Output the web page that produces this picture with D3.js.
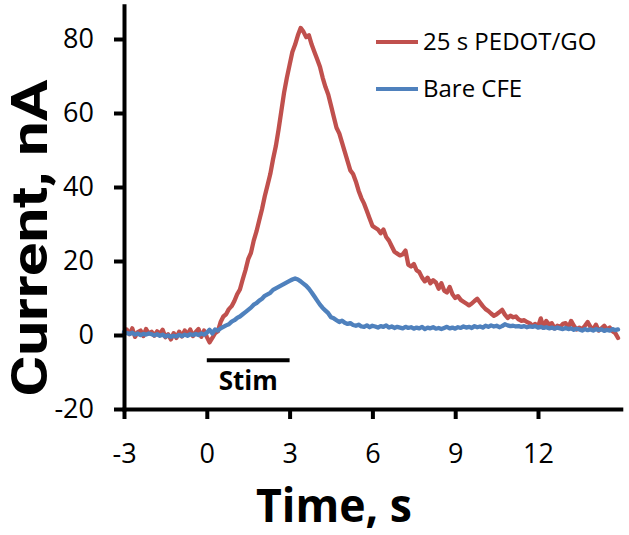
<!DOCTYPE html>
<html><head><meta charset="utf-8">
<script src="https://cdn.jsdelivr.net/npm/d3@7"></script>
<style>html,body{margin:0;padding:0;background:#fff;}svg{display:block;}</style>
</head><body>
<svg id="chart" width="629" height="535"></svg>
<script>
// ---- data ----
const tStart = -3.0, tStep = 0.1; // sampling of the traces (s)
const seriesNames = ["25 s PEDOT/GO", "Bare CFE"];
const seriesColors = ["#C0504D", "#4F81BD"];
const pedotGO = [
 0.5,1.5,0.2,1.8,-0.5,0.8,1.2,-0.3,1.6,0.4,
 0.9,-0.2,1.0,0.3,1.4,-0.6,0.2,-1.2,0.5,-0.8,
 0.9,-0.4,1.2,0.1,1.5,-0.3,0.8,1.6,-0.5,1.2,
 -0.5,-2.0,-0.8,0.5,1.0,3.5,5.0,5.6,7.0,7.8,
 9.2,11.0,12.3,15.0,17.5,20.5,22.2,25.5,28.0,31.0,
 34.0,37.5,40.5,43.5,47.5,51.0,55.5,60.5,65.5,69.5,
 73.0,76.5,78.5,81.0,83.0,82.0,80.5,81.0,78.5,76.5,
 74.5,72.5,69.5,67.0,65.0,62.0,59.0,56.0,54.5,52.0,
 49.5,47.0,44.5,43.5,41.5,39.0,37.0,35.5,33.5,31.5,
 29.5,29.0,28.5,27.5,28.5,26.5,25.5,24.0,22.5,22.0,
 21.5,21.8,22.8,19.0,18.5,19.2,17.5,17.0,15.5,14.5,
 15.5,14.0,14.8,14.2,12.5,14.0,12.0,11.5,13.0,11.0,
 10.0,10.5,9.5,9.0,8.5,8.0,8.5,9.2,9.8,8.8,
 7.8,7.0,6.5,5.8,5.2,5.6,6.2,6.8,5.5,4.6,
 5.2,4.8,5.0,4.2,3.8,4.0,3.5,3.2,2.5,3.0,
 2.2,4.5,2.0,3.8,2.8,3.2,1.8,2.5,2.2,3.0,
 3.2,2.0,3.8,2.5,1.5,2.0,1.6,2.5,3.5,2.2,
 1.5,2.8,1.2,1.8,2.5,1.5,2.0,1.0,0.5,-0.8
];
const bareCFE = [
 0.8,0.5,0.3,0.6,0.1,0.4,0.0,0.3,0.1,0.4,
 0.2,-0.1,0.2,-0.2,0.1,-0.4,-0.1,-0.5,-0.2,-0.4,
 0.0,-0.3,0.1,-0.2,0.2,0.0,0.3,0.0,0.4,0.1,
 0.6,1.4,0.4,1.5,1.2,1.8,2.2,2.6,2.9,3.6,
 4.0,4.6,5.0,5.6,6.2,6.8,7.4,8.2,8.6,9.3,
 9.8,10.6,11.0,11.4,12.2,12.6,13.0,13.4,13.8,14.2,
 14.6,15.0,15.3,15.0,14.5,13.9,13.3,12.5,11.5,10.4,
 9.3,8.2,7.3,6.6,5.9,4.8,4.5,4.0,3.5,3.9,
 3.3,3.0,3.2,2.7,2.5,2.8,2.3,2.2,2.6,2.1,
 2.5,2.3,2.0,2.4,2.2,2.6,2.0,2.3,1.9,2.2,
 2.0,1.8,2.2,1.9,2.1,1.7,2.0,1.8,2.2,1.6,
 2.0,1.8,2.1,1.7,1.9,1.6,1.9,2.2,1.8,2.0,
 1.7,2.1,1.9,2.3,2.0,2.2,1.9,2.4,2.1,2.3,
 2.0,2.5,2.2,2.6,2.3,2.5,2.1,2.4,2.9,2.6,
 2.4,2.5,2.3,2.4,2.2,2.4,2.1,2.3,2.2,2.4,
 2.0,2.2,1.9,2.1,1.8,2.0,1.7,2.0,1.8,1.6,
 1.9,1.6,1.8,1.4,1.7,1.5,1.2,1.6,1.3,1.5,
 1.2,1.6,1.3,1.5,1.1,1.4,1.2,1.6,1.3,1.5
];
const xTicks = [-3, 0, 3, 6, 9, 12];
const yTicks = [-20, 0, 20, 40, 60, 80];
const xDomain = [-3, 15];
const yDomain = [-20, 89];
const stimStart = 0, stimEnd = 3, stimLevel = -6.8;
const xTitle = "Time, s", yTitle = "Current, nA", stimLabel = "Stim";

// ---- drawing ----
const svg = d3.select("#chart");
const x = d3.scaleLinear().domain(xDomain).range([124, 620.8]);
const y = d3.scaleLinear().domain(yDomain).range([409, 5.7]);
const font = "'Open Sans', 'Liberation Sans', sans-serif";
const fmt = d => String(d); // plain hyphen for negatives

const traces = [pedotGO, bareCFE].map((vals, i) => ({
  name: seriesNames[i], color: seriesColors[i],
  pts: vals.map((v, j) => [tStart + j * tStep, v])
}));

const line = d3.line().x(d => x(d[0])).y(d => y(d[1]));
svg.append("g").selectAll("path").data(traces).join("path")
  .attr("d", d => line(d.pts)).attr("fill", "none")
  .attr("stroke", d => d.color).attr("stroke-width", 4.3)
  .attr("stroke-linejoin", "round").attr("stroke-linecap", "round");

// axes
const xAxis = svg.append("g").attr("transform", `translate(0,${y(-20)})`)
  .call(d3.axisBottom(x).tickValues(xTicks).tickFormat(fmt).tickSize(10).tickSizeOuter(0).tickPadding(25));
const yAxis = svg.append("g").attr("transform", `translate(${x(-3)},0)`)
  .call(d3.axisLeft(y).tickValues(yTicks).tickFormat(fmt).tickSize(10).tickSizeOuter(0).tickPadding(20));
[xAxis, yAxis].forEach(g => {
  g.select(".domain").attr("stroke", "#000").attr("stroke-width", 4).attr("stroke-linecap", "square");
  g.selectAll(".tick line").attr("stroke", "#000").attr("stroke-width", 4);
  g.selectAll(".tick text").attr("fill", "#000").style("font-family", font).style("font-size", "27px");
});
xAxis.selectAll(".tick text").attr("dy", "0.71em");

// stim bar
svg.append("line").attr("x1", x(stimStart)).attr("x2", x(stimEnd))
  .attr("y1", y(stimLevel)).attr("y2", y(stimLevel))
  .attr("stroke", "#000").attr("stroke-width", 4);
svg.append("text").attr("x", x((stimStart + stimEnd) / 2)).attr("y", 390)
  .attr("text-anchor", "middle").style("font-family", font).style("font-weight", "bold")
  .style("font-size", "26px").text(stimLabel);

// titles
svg.append("text").attr("x", 334).attr("y", 522).attr("text-anchor", "middle")
  .style("font-family", font).style("font-weight", "bold").style("font-size", "46px")
  .attr("textLength", 156).attr("lengthAdjust", "spacingAndGlyphs").text(xTitle);
svg.append("text").attr("transform", "translate(47,238) rotate(-90)").attr("text-anchor", "middle")
  .style("font-family", "Roboto, 'Open Sans', sans-serif").style("font-weight", "bold").style("font-size", "50px")
  .attr("textLength", 317).attr("lengthAdjust", "spacingAndGlyphs").text(yTitle);

// legend
const leg = svg.append("g").selectAll("g").data(traces).join("g")
  .attr("transform", (d, i) => `translate(376,${42 + i * 47})`);
leg.append("line").attr("x1", 0).attr("x2", 42).attr("stroke", d => d.color).attr("stroke-width", 4);
leg.append("text").attr("x", 47).attr("y", 0).attr("dy", "0.35em")
  .style("font-family", font).style("font-size", "24px").attr("fill", "#000").text(d => d.name);
</script>
</body></html>
